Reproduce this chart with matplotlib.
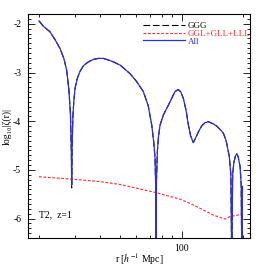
import numpy as np
import matplotlib
matplotlib.use("Agg")
import matplotlib.pyplot as plt
from matplotlib.ticker import FixedLocator, MultipleLocator, NullFormatter, FixedFormatter

plt.rcParams['font.family'] = ['Liberation Serif', 'DejaVu Serif']
plt.rcParams['mathtext.fontset'] = 'stix'

# separation r [h^-1 Mpc] and log10|zeta(r)|
r_all = [20.0, 21.0, 22.6, 24.0, 25.3, 26.5, 27.3, 28.0, 28.5, 28.8, 28.9, 29.05,
         29.3, 29.6, 30.0, 30.8, 31.7, 33.0, 34.9, 37.0, 39.0, 41.3, 43.5, 46.2,
         50.0, 55.7, 60.0, 64.8, 68.5, 71.3, 73.0, 74.0, 74.5, 74.8, 75.2, 76.0,
         77.0, 78.3, 81.3, 86.0, 89.5, 92.7, 96.2, 99.0, 101.8, 105.0, 107.8,
         110.5, 114.0, 117.0, 120.6, 125.0, 130.0, 135.0, 142.0, 148.3, 155.0,
         160.0, 165.0, 171.0, 174.0, 175.8, 177.5, 180.0, 183.0, 186.0, 189.0,
         193.0, 195.5, 196.9, 198.3]
z_all = [-1.94, -2.05, -2.16, -2.33, -2.50, -2.72, -2.95, -3.35, -3.85, -4.6, -5.31, -4.5,
         -3.9, -3.6, -3.33, -3.12, -2.98, -2.86, -2.78, -2.73, -2.71, -2.71, -2.74, -2.78,
         -2.85, -3.02, -3.18, -3.39, -3.68, -4.08, -4.45, -4.76, -5.3, -7.0, -5.2, -4.6,
         -4.30, -4.08, -3.87, -3.67, -3.52, -3.39, -3.35, -3.40, -3.53, -3.78, -4.08,
         -4.30, -4.44, -4.34, -4.22, -4.10, -4.03, -4.01, -4.05, -4.10, -4.18,
         -4.25, -4.40, -4.73, -5.1, -7.0, -5.1, -4.85, -4.72, -4.67, -4.73,
         -4.93, -5.3, -7.0, -5.34]
z_ggg = [-1.94, -2.05, -2.16, -2.33, -2.50, -2.72, -2.95, -3.35, -3.85, -4.65, -5.37, -4.55,
         -3.9, -3.6, -3.33, -3.12, -2.98, -2.86, -2.78, -2.73, -2.71, -2.71, -2.74, -2.78,
         -2.85, -3.02, -3.18, -3.39, -3.68, -4.08, -4.45, -4.76, -5.3, -7.0, -5.2, -4.6,
         -4.30, -4.08, -3.87, -3.67, -3.52, -3.39, -3.35, -3.40, -3.53, -3.78, -4.08,
         -4.30, -4.44, -4.34, -4.22, -4.10, -4.03, -4.01, -4.05, -4.10, -4.18,
         -4.25, -4.40, -4.73, -5.1, -7.0, -5.1, -4.85, -4.72, -4.67, -4.73,
         -4.93, -5.3, -7.0, -5.34]

r_lens = [20, 29, 39.8, 50, 57.9, 75.4, 98, 110, 123, 143, 163, 172, 197]
z_lens = [-5.14, -5.19, -5.24, -5.30, -5.36, -5.47, -5.60, -5.69, -5.79, -5.93, -6.01, -5.96, -5.91]

fig = plt.figure(figsize=(2.66, 2.66), dpi=100)
ax = fig.add_axes([0.106, 0.105, 0.834, 0.842])

ax.plot(r_all, z_ggg, color='black', lw=0.8, dashes=(6, 2.5), label='GGG')
ax.plot(r_lens, z_lens, color='#ff2a2a', lw=0.8, dashes=(2.5, 1.5), label='GGL+GLL+LLL')
ax.plot(r_all, z_all, color='#2d2de0', lw=0.9, label='All')

ax.set_xscale('log')
ax.set_xlim(17.7, 216)
ax.set_ylim(-6.4, -1.8)

ax.xaxis.set_major_locator(FixedLocator([100]))
ax.xaxis.set_major_formatter(FixedFormatter(['100']))
ax.xaxis.set_minor_locator(FixedLocator([20, 30, 40, 50, 60, 70, 80, 90, 200]))
ax.xaxis.set_minor_formatter(NullFormatter())
ax.yaxis.set_major_locator(MultipleLocator(1))
ax.yaxis.set_minor_locator(MultipleLocator(0.1))
ax.yaxis.set_major_formatter(plt.FuncFormatter(lambda v, p: '-%d' % abs(v)))

ax.tick_params(which='both', direction='in', top=True, right=True, labelsize=7, width=0.6)
ax.tick_params(which='major', length=5)
ax.tick_params(axis='y', which='major', pad=5)
ax.tick_params(axis='x', which='major', pad=4)
ax.tick_params(which='minor', length=2.5)
for s in ax.spines.values():
    s.set_linewidth(0.8)

ax.set_xlabel('r [$h^{-1}$ Mpc]', fontsize=7)
ax.xaxis.set_label_coords(0.5, -0.06)
ax.set_ylabel('log\u2081\u2080|\u03b6(r)|', fontsize=7)
ax.yaxis.set_label_coords(-0.076, 0.5)

ax.text(0.05, 0.095, 'T2,  z=1', transform=ax.transAxes, fontsize=7)

ax.legend(loc='upper right', bbox_to_anchor=(1.03, 0.995), frameon=False, fontsize=6.5,
          handlelength=4.6, handletextpad=0.3, labelspacing=-0.05,
          labelcolor='linecolor', borderaxespad=0.3)

fig.savefig('out.png', dpi=100)
